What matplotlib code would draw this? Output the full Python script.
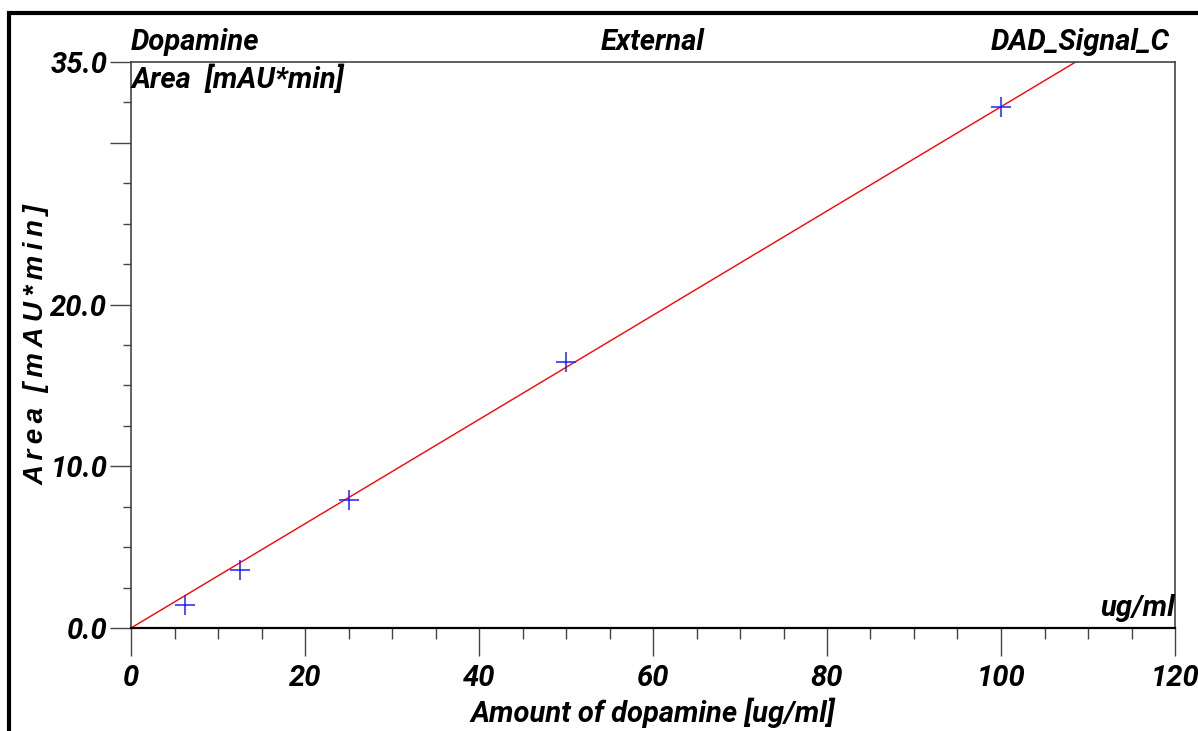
import numpy as np
import matplotlib
matplotlib.use('Agg')
from matplotlib import pyplot as plt
from matplotlib.patches import Rectangle
from matplotlib.ticker import MultipleLocator, FixedLocator, FixedFormatter

# calibration standards: amount (ug/ml) vs peak area (mAU*min)
amounts = [6.25, 12.5, 25.0, 50.0, 100.0]
areas = [1.4, 3.6, 7.9, 16.45, 32.2]

y_major = [0.0, 10.0, 20.0, 30.0, 35.0]
y_labels = ['0.0', '10.0', '20.0', '', '35.0']
x_major = [0, 20, 40, 60, 80, 100, 120]

FONT = ['Roboto', 'Liberation Sans', 'DejaVu Sans']
plt.rcParams['font.family'] = FONT

x = np.array(amounts)
y = np.array(areas)
# linear fit forced through the origin
slope = np.sum(x * y) / np.sum(x * x)

fig = plt.figure(figsize=(11.98, 7.31), dpi=100)
ax = fig.add_axes([131 / 1198, 1 - 628 / 731, (1175 - 131) / 1198, (628 - 62) / 731])

xs = np.array([0.0, 120.0])
ax.plot(xs, slope * xs, color='red', lw=1.0, zorder=2)
ax.plot(x, y, linestyle='none', marker='+', markersize=15, markeredgewidth=1.1,
        color='#2020ff', zorder=3)

ax.set_xlim(0, 120)
ax.set_ylim(0, 35)

ax.xaxis.set_major_locator(FixedLocator(x_major))
ax.xaxis.set_minor_locator(MultipleLocator(5))
ax.yaxis.set_major_locator(FixedLocator(y_major))
ax.yaxis.set_major_formatter(FixedFormatter(y_labels))
ax.yaxis.set_minor_locator(MultipleLocator(2.5))

tick_font = dict(fontsize=21, fontweight='bold', fontstyle='italic')
for lab in ax.get_xticklabels() + ax.get_yticklabels():
    lab.set_fontsize(21)
    lab.set_fontweight('bold')
    lab.set_fontstyle('italic')

ax.tick_params(axis='x', which='major', direction='out', length=20, width=1, pad=6, color='#444444')
ax.tick_params(axis='x', which='minor', direction='out', length=8, width=1, color='#444444')
ax.tick_params(axis='y', which='major', direction='out', length=15, width=1, pad=2, color='#444444')
ax.tick_params(axis='y', which='minor', direction='out', length=6, width=1, color='#444444')

for side in ['left', 'top', 'right']:
    ax.spines[side].set_color('#444444')
    ax.spines[side].set_linewidth(1.2)
ax.spines['bottom'].set_color('black')
ax.spines['bottom'].set_linewidth(1.6)

# header texts
ax.text(0.0, 1.01, 'Dopamine', transform=ax.transAxes, ha='left', va='bottom', **tick_font)
ax.text(0.5, 1.01, 'External', transform=ax.transAxes, ha='center', va='bottom', **tick_font)
ax.text(0.995, 1.01, 'DAD_Signal_C', transform=ax.transAxes, ha='right', va='bottom', **tick_font)
ax.text(0.0, 0.995, 'Area  [mAU*min]', transform=ax.transAxes, ha='left', va='top', **tick_font)
ax.text(1.0, 0.01, 'ug/ml', transform=ax.transAxes, ha='right', va='bottom', **tick_font)

ax.set_xlabel('Amount of dopamine [ug/ml]', labelpad=4, **tick_font)

# letter-spaced vertical axis title
ylab = '\u2009'.join('Area') + '  ' + '\u2009'.join('[mAU*min]')
ax.set_ylabel(ylab, fontsize=20, fontweight='bold', fontstyle='italic',
              family=['Liberation Sans', 'DejaVu Sans'])
ax.yaxis.set_label_coords((50 - 131) / 1044, (628 - 345) / 566)

# outer frame around the report panel
fig.patches.append(Rectangle((9 / 1198, -0.1), 1.2, (731 - 13) / 731 + 0.1,
                             transform=fig.transFigure, fill=False,
                             edgecolor='black', linewidth=3))

fig.savefig('out.png', dpi=100)
